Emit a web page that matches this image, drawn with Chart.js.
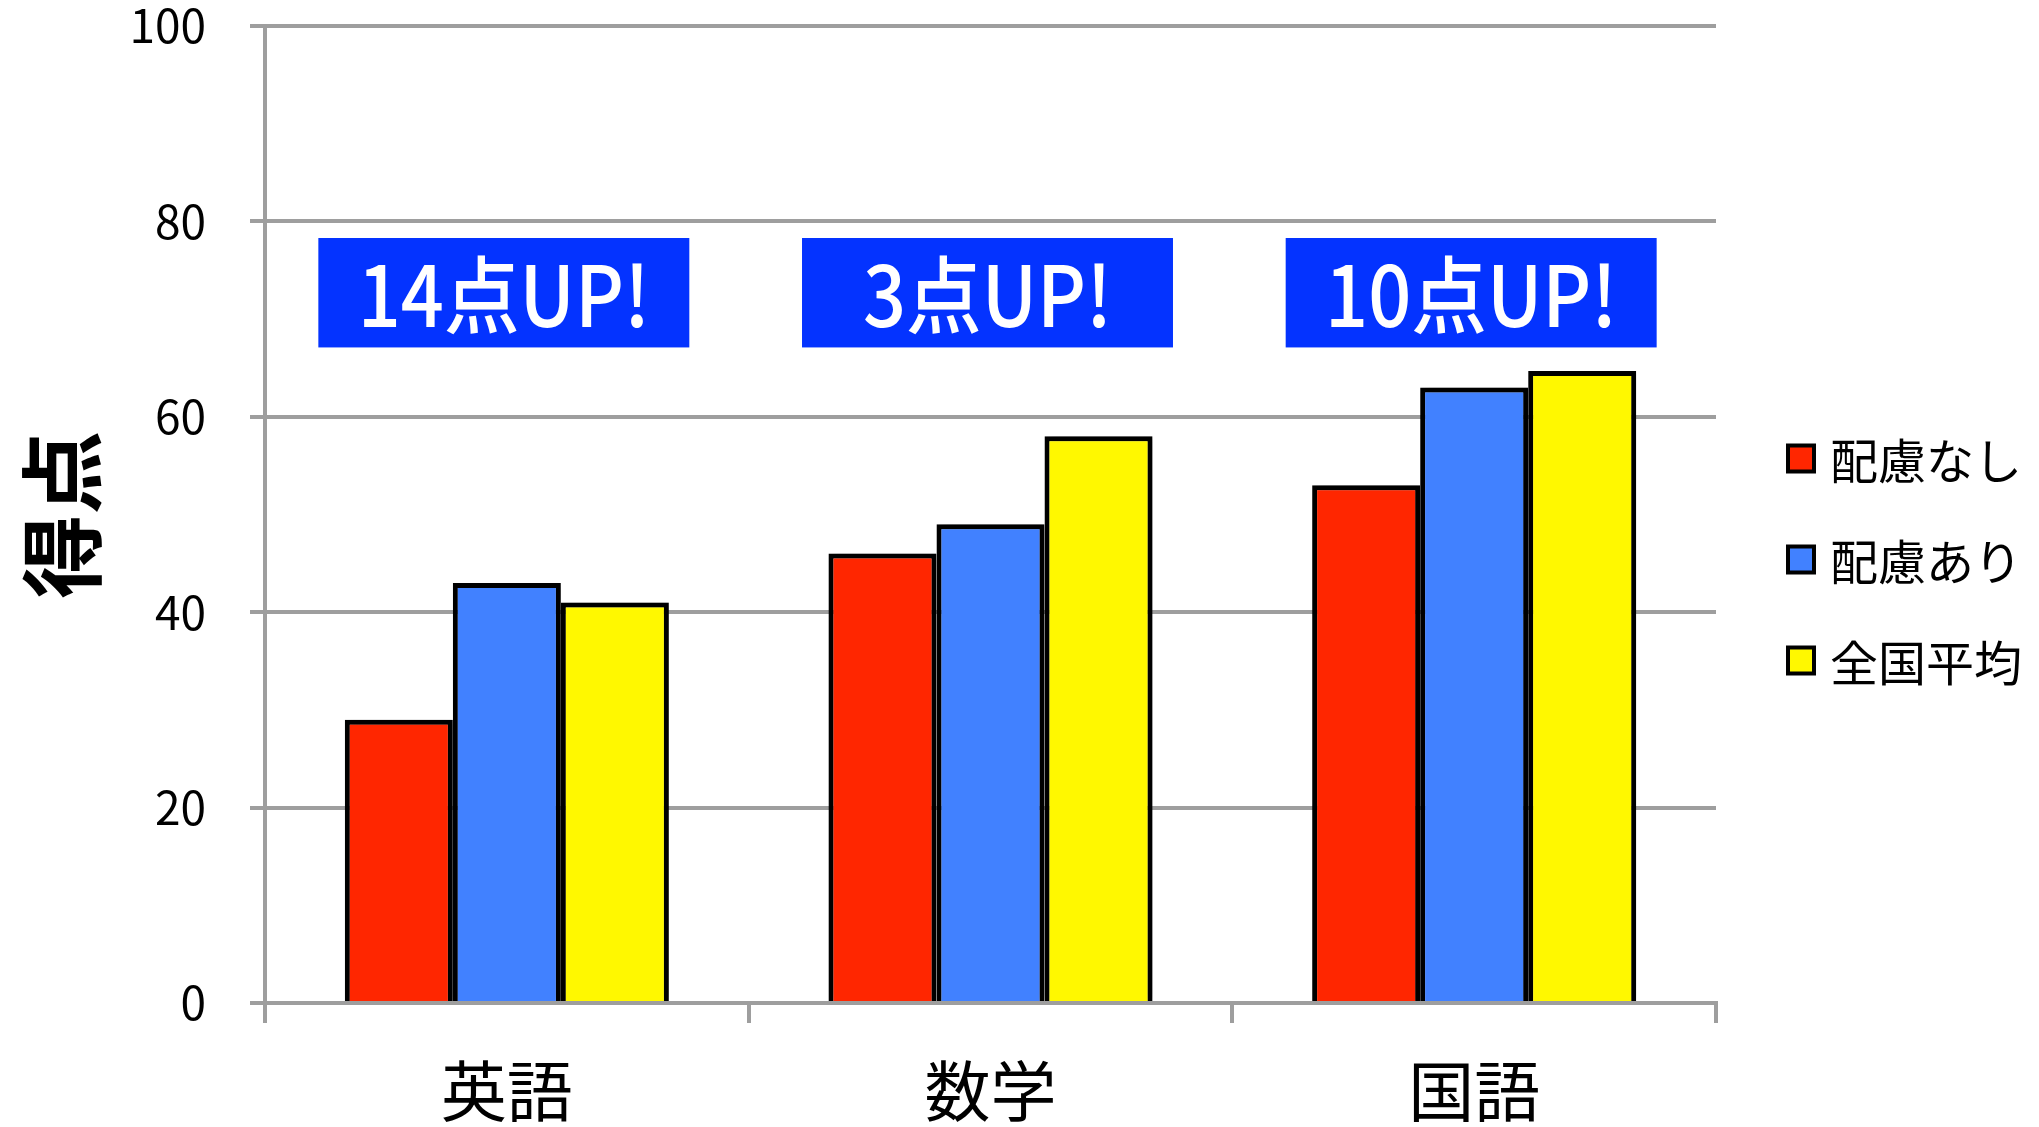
<!DOCTYPE html>
<html lang="ja">
<head>
<meta charset="utf-8">
<script src="https://cdn.jsdelivr.net/npm/chart.js@4.4.1/dist/chart.umd.min.js"></script>
<style>
  html, body { margin: 0; padding: 0; background: #fff; }
  #wrap { width: 2039px; height: 1127px; position: relative; }
</style>
</head>
<body>
<div id="wrap"><canvas id="myChart"></canvas></div>
<script>
  // Data
  const subjects = ['英語', '数学', '国語'];
  const seriesNames = ['配慮なし', '配慮あり', '全国平均'];
  const noCare = [29, 46, 53];
  const withCare = [43, 49, 63];
  const nationalAvg = [41, 58, 64.7];
  const yTicks = [0, 20, 40, 60, 80, 100];
  const upLabels = ['14点UP!', '3点UP!', '10点UP!'];
  const upBand = [67.1, 78.3];

  const FONT = '"Noto Sans CJK JP", "Noto Sans", sans-serif';
  const colors = ['#ff2600', '#4181ff', '#fff800'];

  // soft shadow on the bars
  const barShadow = {
    id: 'barShadow',
    beforeDatasetsDraw(chart) {
      const c = chart.ctx;
      c.save();
      c.shadowColor = 'rgba(0,0,0,0.3)';
      c.shadowBlur = 8;
      c.shadowOffsetX = 4;
      c.shadowOffsetY = 0;
    },
    afterDatasetsDraw(chart) {
      chart.ctx.restore();
    }
  };

  // blue "UP!" boxes above each group
  const upBoxes = {
    id: 'upBoxes',
    afterDatasetsDraw(chart) {
      const { ctx, scales: { x, y } } = chart;
      const w = (x.getPixelForValue(1) - x.getPixelForValue(0)) * 0.767;
      const top = y.getPixelForValue(upBand[1]);
      const bottom = y.getPixelForValue(upBand[0]);
      ctx.save();
      upLabels.forEach((txt, i) => {
        const cx = x.getPixelForValue(i) - 3;
        ctx.fillStyle = '#0433ff';
        ctx.fillRect(cx - w / 2, top, w, bottom - top);
        ctx.save();
        ctx.translate(cx, (top + bottom) / 2 + 2);
        ctx.scale(0.9, 1);
        ctx.fillStyle = '#fff';
        ctx.font = '500 84px ' + FONT;
        ctx.textAlign = 'center';
        ctx.textBaseline = 'middle';
        ctx.fillText(txt, 0, 0);
        ctx.restore();
      });
      ctx.restore();
    }
  };

  // legend on the right
  const sideLegend = {
    id: 'sideLegend',
    afterDraw(chart) {
      const { ctx, chartArea } = chart;
      const x0 = chartArea.right + 72;
      const midY = chart.height / 2 - 4;
      ctx.save();
      chart.data.datasets.forEach((ds, i) => {
        const cy = midY + (i - 1) * 101;
        ctx.fillStyle = ds.backgroundColor;
        ctx.fillRect(x0, cy - 13, 26, 26);
        ctx.lineWidth = 4;
        ctx.strokeStyle = '#000';
        ctx.strokeRect(x0, cy - 13, 26, 26);
        ctx.fillStyle = '#000';
        ctx.font = '48px ' + FONT;
        ctx.textAlign = 'left';
        ctx.textBaseline = 'middle';
        ctx.fillText(ds.label, x0 + 42, cy + 2);
      });
      ctx.restore();
    }
  };

  const ctx = document.getElementById('myChart');

  const config = {
    type: 'bar',
    data: {
      labels: subjects,
      datasets: [noCare, withCare, nationalAvg].map((vals, i) => ({
        label: seriesNames[i],
        data: vals,
        backgroundColor: colors[i],
        borderColor: '#000',
        borderWidth: 5,
        borderSkipped: 'bottom',
        barPercentage: 1.0,
        categoryPercentage: 0.67
      }))
    },
    options: {
      responsive: true,
      maintainAspectRatio: false,
      animation: false,
      layout: { padding: { right: 323, top: 0, left: 0, bottom: 0 } },
      plugins: {
        legend: { display: false },
        tooltip: { enabled: false }
      },
      scales: {
        x: {
          grid: {
            display: true,
            drawOnChartArea: false,
            drawTicks: true,
            tickLength: 20,
            color: '#9e9e9e',
            lineWidth: 4
          },
          border: { color: '#9e9e9e', width: 4 },
          ticks: { color: '#000', font: { family: FONT, size: 66 }, padding: 28 },
          afterFit(scale) {
            scale.height = 124;
          }
        },
        y: {
          min: 0,
          max: 100,
          afterBuildTicks(scale) {
            scale.ticks = yTicks.map(v => ({ value: v }));
          },
          ticks: { color: '#000', font: { family: FONT, size: 46 }, padding: 44 },
          grid: { color: '#9e9e9e', lineWidth: 4, tickLength: 15 },
          border: { color: '#9e9e9e', width: 4 },
          title: {
            display: true,
            text: '得点',
            color: '#000',
            font: { family: FONT, size: 84, weight: 'bold' },
            padding: { top: 12, bottom: 0 }
          },
          afterFit(scale) {
            scale.width = 265;
            scale.paddingTop = 26;
            scale.paddingBottom = 26;
          }
        }
      }
    },
    plugins: [barShadow, upBoxes, sideLegend]
  };

  const myChart = new Chart(ctx, config);
</script>
</body>
</html>
